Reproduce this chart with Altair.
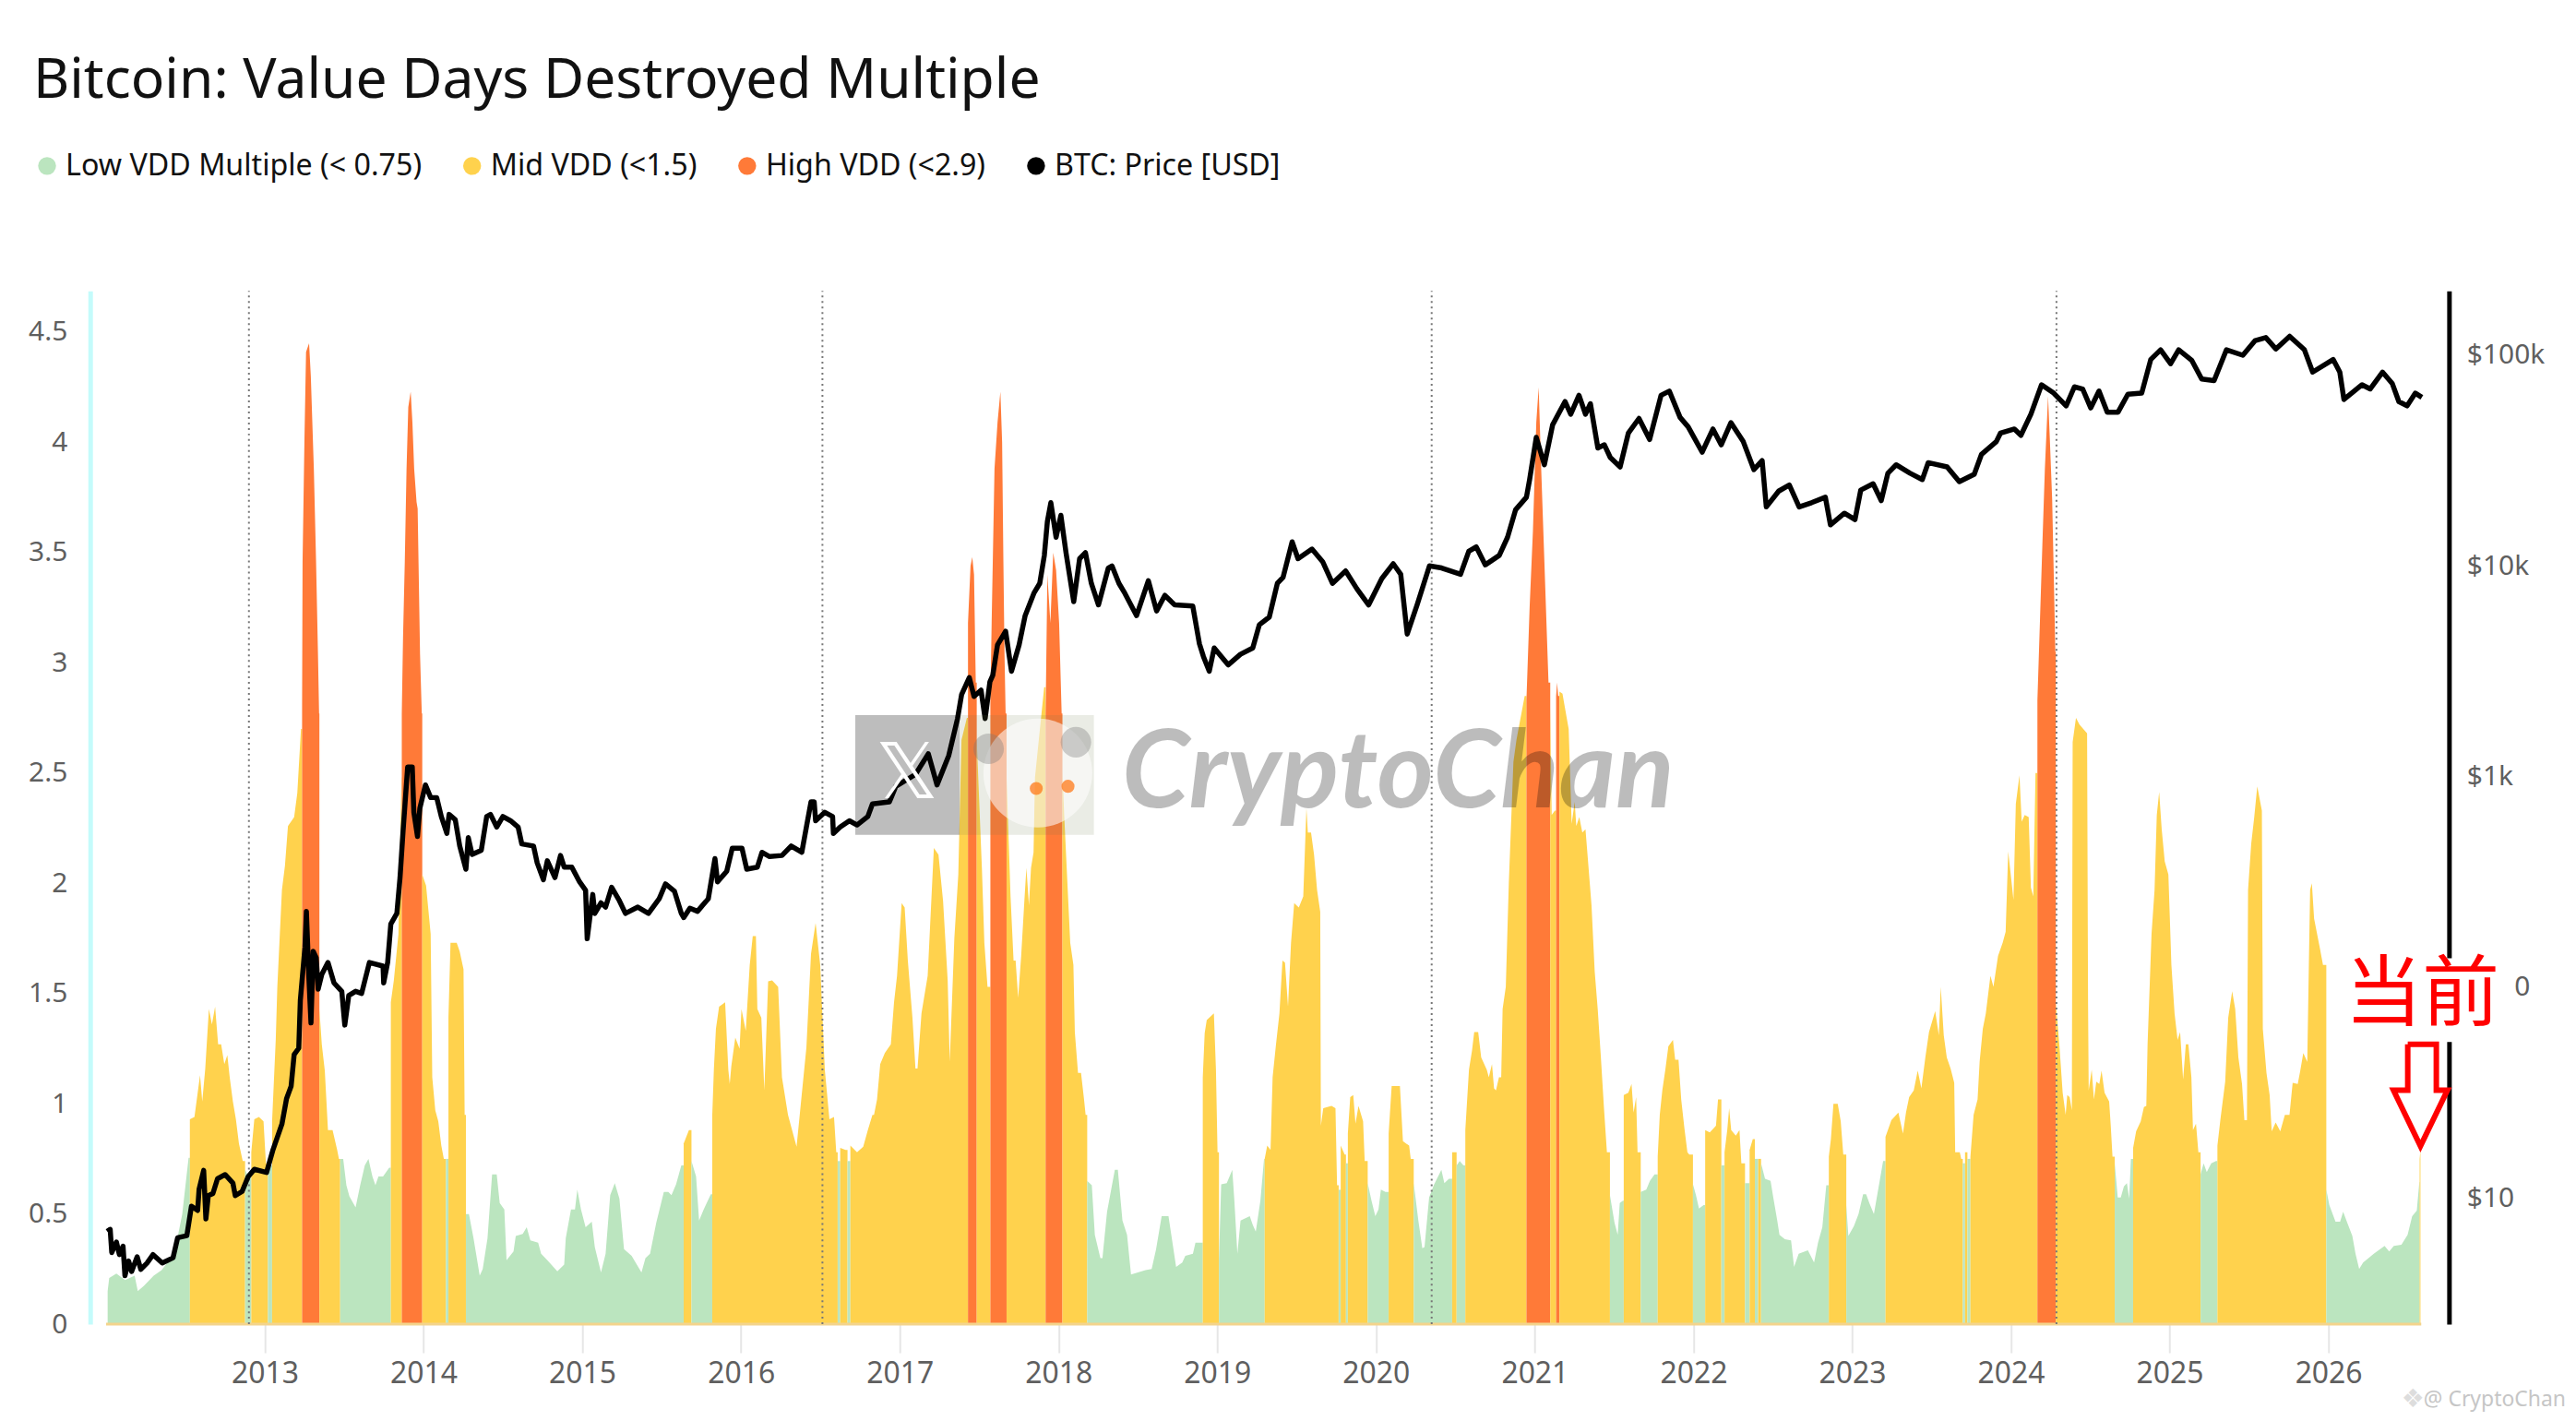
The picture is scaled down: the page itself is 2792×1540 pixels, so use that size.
import altair as alt
import numpy as np
import pandas as pd

TITLE = "Bitcoin: Value Days Destroyed Multiple"
REGIMES = ["Low VDD Multiple (< 0.75)", "Mid VDD (<1.5)", "High VDD (<2.9)", "BTC: Price [USD]"]
REGIME_COLORS = ["#bbe5bf", "#ffd24d", "#ff7a38", "#000000"]
FONT = "Noto Sans"

# (decimal year, VDD multiple)
vdd_2012 = [(2012.01,.15),(2012.02,.21),(2012.065,.23),(2012.12,.20),(2012.18,.22),(2012.20,.15),(2012.24,.175),(2012.30,.22),(2012.35,.245),(2012.43,.32),(2012.48,.50),(2012.52,.755),
(2012.528,.93),(2012.557,.94),(2012.592,1.13),(2012.606,1.01),(2012.625,1.16),(2012.648,1.43),(2012.667,1.36),(2012.687,1.44),(2012.706,1.27),(2012.725,1.27),(2012.745,1.18),(2012.764,1.22),(2012.779,1.12),(2012.799,1.01),(2012.818,.93),(2012.837,.82),(2012.861,.74),
(2012.876,.70),(2012.895,.67),(2012.915,.78),(2012.934,.93),(2012.963,.94),(2012.992,.92),(2013.007,.73)]
vdd_2013 = [(2013.02,.72),(2013.046,.92),(2013.069,1.29),(2013.079,1.53),(2013.108,1.97),(2013.127,2.08),(2013.146,2.26),(2013.185,2.30),(2013.205,2.41),(2013.228,2.7),
(2013.235,2.8),(2013.238,3.46),(2013.25,4.02),(2013.26,4.41),(2013.279,4.45),(2013.29,4.3),(2013.309,3.88),(2013.323,3.46),(2013.335,3.04),(2013.342,2.77),
(2013.344,1.43),(2013.359,1.27),(2013.378,1.15),(2013.398,.88),(2013.427,.88),(2013.456,.79),(2013.467,.75),
(2013.475,.75),(2013.494,.75),(2013.514,.63),(2013.533,.58),(2013.572,.53),(2013.601,.63),(2013.63,.72),(2013.653,.75),(2013.678,.67),(2013.697,.63),(2013.716,.67),(2013.745,.67),(2013.784,.71),
(2013.794,1.46),(2013.813,1.56),(2013.842,1.77),(2013.861,2.48),
(2013.863,2.77),(2013.871,3.12),(2013.882,3.46),(2013.893,3.88),(2013.904,4.16),(2013.919,4.23),(2013.93,4.09),(2013.941,3.88),(2013.956,3.73),(2013.963,3.70),(2013.978,3.04),(2013.989,2.77),
(2013.992,2.04)]
vdd_2014 = [(2014.016,1.99),(2014.045,1.77),(2014.055,1.12),(2014.074,.97),(2014.093,.92),(2014.112,.81),(2014.128,.75),(2014.141,.75),
(2014.157,1.39),(2014.17,1.73),(2014.209,1.73),(2014.228,1.69),(2014.252,1.61),(2014.259,.95),
(2014.267,.50),(2014.286,.50),(2014.315,.39),(2014.354,.22),(2014.373,.25),(2014.403,.39),(2014.432,.68),(2014.461,.68),(2014.48,.55),(2014.509,.52),(2014.523,.29),(2014.567,.33),(2014.581,.40),(2014.625,.41),(2014.65,.44),(2014.673,.38),(2014.722,.37),(2014.741,.32),(2014.78,.29),(2014.843,.24),(2014.886,.27),(2014.896,.39),(2014.929,.52),(2014.954,.52),(2014.969,.61),(2014.992,.52)]
vdd_2015 = [(2015.021,.44),(2015.06,.465),(2015.079,.35),(2015.118,.235),(2015.147,.32),(2015.176,.585),(2015.205,.64),(2015.234,.57),(2015.263,.34),(2015.311,.31),(2015.373,.235),(2015.398,.30),(2015.427,.32),(2015.466,.46),(2015.514,.60),(2015.542,.60),(2015.562,.585),(2015.591,.635),(2015.624,.72),
(2015.639,.82),(2015.672,.88),(2015.688,.74),(2015.717,.67),(2015.736,.47),(2015.765,.52),(2015.81,.59),
(2015.819,.95),(2015.829,1.155),(2015.842,1.34),(2015.862,1.44),(2015.9,1.46),(2015.92,1.155),(2015.929,1.09),(2015.939,1.17),(2015.964,1.30),(2015.991,1.25)]
vdd_2016 = [(2016.003,1.43),(2016.03,1.33),(2016.055,1.63),(2016.074,1.76),(2016.094,1.76),(2016.103,1.43),(2016.128,1.39),(2016.147,1.06),(2016.171,1.555),(2016.196,1.56),(2016.234,1.53),(2016.258,1.12),(2016.296,.95),(2016.35,.805),(2016.37,.95),(2016.412,1.255),(2016.441,1.68),(2016.47,1.82),(2016.499,1.63),(2016.528,1.155),(2016.557,.93),(2016.586,.94),(2016.6,.78),
(2016.609,.74),(2016.625,.80),(2016.659,.79),(2016.671,.74),(2016.689,.81),(2016.731,.78),(2016.77,.805),(2016.799,.88),(2016.828,.95),(2016.838,.95),(2016.857,1.02),(2016.877,1.18),(2016.906,1.23),(2016.944,1.27),(2016.964,1.46),(2016.983,1.58)]
vdd_2017 = [(2017.012,1.91),(2017.031,1.89),(2017.051,1.65),(2017.08,1.39),(2017.099,1.16),(2017.112,1.16),(2017.137,1.41),(2017.176,1.58),(2017.215,2.16),(2017.244,2.13),(2017.273,1.92),(2017.302,1.56),(2017.315,1.19),(2017.344,1.75),(2017.369,2.04),(2017.389,2.65),(2017.423,2.75),
(2017.43,3.18),(2017.446,3.44),(2017.457,3.48),(2017.468,3.40),(2017.479,2.91),
(2017.485,2.65),(2017.518,2.06),(2017.533,1.73),(2017.553,1.53),
(2017.571,2.84),(2017.579,3.18),(2017.597,3.88),(2017.616,4.09),(2017.634,4.23),(2017.645,4.0),(2017.653,3.46),(2017.66,3.04),(2017.667,2.77),
(2017.673,2.48),(2017.698,1.94),(2017.717,1.65),(2017.73,1.65),(2017.746,1.48),(2017.765,1.67),(2017.785,1.92),(2017.798,2.07),(2017.814,1.90),(2017.827,2.07),(2017.843,2.14),(2017.852,2.48),(2017.91,2.89),
(2017.919,2.77),(2017.93,3.40),(2017.949,3.18),(2017.967,3.50),(2017.985,3.42)]
vdd_2018 = [(2018.004,3.18),(2018.02,2.77),(2018.025,2.5),(2018.036,2.31),(2018.055,2.02),(2018.074,1.73),(2018.094,1.63),(2018.103,1.325),(2018.123,1.14),(2018.142,1.14),(2018.161,1.02),(2018.171,.95),
(2018.181,.65),(2018.21,.63),(2018.229,.405),(2018.264,.30),(2018.277,.30),(2018.306,.51),(2018.355,.70),(2018.374,.70),(2018.403,.47),(2018.432,.405),(2018.457,.225),(2018.5,.235),(2018.548,.245),(2018.587,.25),(2018.615,.34),(2018.65,.49),(2018.693,.49),(2018.741,.26),(2018.78,.28),(2018.799,.31),(2018.847,.32),(2018.863,.37),(2018.898,.37),
(2018.909,1.12),(2018.921,1.32),(2018.934,1.38),(2018.979,1.41),(2018.992,1.155)]
vdd_2019 = [(2019.002,.78),(2019.011,.29),(2019.025,.635),(2019.06,.64),(2019.095,.70),(2019.108,.56),(2019.127,.32),(2019.147,.47),(2019.205,.49),(2019.224,.45),(2019.243,.42),(2019.272,.56),(2019.295,.75),
(2019.299,.75),(2019.315,.81),(2019.336,.79),(2019.349,1.12),(2019.369,1.26),(2019.392,1.41),(2019.411,1.65),(2019.427,1.64),(2019.446,1.44),(2019.465,1.73),(2019.485,1.91),(2019.514,1.89),(2019.542,1.94),(2019.562,2.34),(2019.571,2.23),(2019.591,2.23),(2019.61,2.13),(2019.629,1.97),(2019.649,1.87),(2019.653,.90),(2019.668,.98),(2019.72,.99),(2019.745,.98),(2019.755,.63),
(2019.765,.61),(2019.778,.81),(2019.803,.77),(2019.811,.73),(2019.823,.865),(2019.838,1.03),(2019.857,1.04),(2019.871,.91),(2019.89,.99),(2019.919,.92),(2019.929,.74),(2019.948,.64),(2019.972,.56),(2019.996,.49)]
vdd_2020 = [(2020.016,.52),(2020.031,.61),(2020.06,.60),(2020.08,.865),(2020.099,1.08),(2020.151,1.08),(2020.17,.83),(2020.209,.81),(2020.219,.75),
(2020.238,.64),(2020.267,.47),(2020.292,.345),(2020.306,.35),(2020.335,.575),(2020.364,.63),(2020.412,.70),(2020.431,.64),(2020.46,.66),(2020.48,.78),(2020.493,.78),(2020.508,.72),(2020.528,.74),(2020.551,.72),
(2020.563,.88),(2020.586,1.155),(2020.605,1.24),(2020.619,1.325),(2020.644,1.325),(2020.663,1.21),(2020.698,1.155),(2020.711,1.12),(2020.731,1.18),(2020.744,1.07),(2020.756,1.06),(2020.775,1.12),(2020.789,1.12),(2020.798,1.43),(2020.818,1.53),(2020.837,2.0),(2020.866,2.55),(2020.885,2.65),(2020.937,2.85),
(2020.948,2.83),(2020.968,3.25),(2020.989,3.6)]
vdd_2021 = [(2021.01,4.09),(2021.025,4.25),(2021.041,3.88),(2021.061,3.46),(2021.077,3.12),(2021.087,2.91),
(2021.098,2.8),(2021.107,2.31),(2021.127,2.33),(2021.135,2.85),(2021.141,2.91),(2021.148,2.85),
(2021.156,2.87),(2021.175,2.86),(2021.214,2.70),(2021.233,2.27),(2021.252,2.37),(2021.262,2.26),(2021.281,2.30),(2021.3,2.23),(2021.32,2.245),(2021.335,2.11),(2021.358,1.90),(2021.378,1.60),(2021.397,1.43),(2021.417,1.21),(2021.436,.985),(2021.455,.78),
(2021.474,.585),(2021.503,.46),(2021.523,.405),(2021.536,.55),(2021.556,.56),(2021.561,1.04),(2021.59,1.05),(2021.61,1.09),(2021.623,.96),(2021.639,1.03),(2021.648,.78),
(2021.668,.60),(2021.703,.61),(2021.726,.65),(2021.755,.68),(2021.775,.76),(2021.788,.95),(2021.804,1.06),(2021.823,1.155),(2021.842,1.26),(2021.871,1.29),(2021.885,1.20),(2021.906,1.20),(2021.923,1.02),(2021.943,.89),(2021.962,.78),(2021.974,.77),(2021.997,.635)]
vdd_2022 = [(2022.016,.585),(2022.035,.525),(2022.064,.54),(2022.074,.88),(2022.103,.87),(2022.142,.90),(2022.155,1.02),(2022.163,1.02),(2022.176,.72),(2022.196,.78),(2022.213,.88),(2022.225,.98),(2022.238,.88),(2022.267,.855),(2022.29,.88),(2022.302,.73),(2022.325,.64),(2022.354,.79),(2022.374,.84),(2022.387,.75),(2022.408,.75),
(2022.426,.73),(2022.451,.66),(2022.486,.65),(2022.503,.575),(2022.528,.47),(2022.542,.405),(2022.576,.385),(2022.615,.38),(2022.634,.26),(2022.663,.32),(2022.721,.335),(2022.76,.28),(2022.785,.37),(2022.812,.44),(2022.837,.63),
(2022.853,.76),(2022.866,.84),(2022.882,1.0),(2022.909,1.0),(2022.928,.92),(2022.944,.77),(2022.963,.54),(2022.976,.40)]
vdd_2023 = [(2023.011,.445),(2023.04,.50),(2023.069,.59),(2023.088,.59),(2023.108,.55),(2023.137,.50),(2023.166,.62),(2023.195,.74),
(2023.21,.85),(2023.247,.925),(2023.291,.96),(2023.32,.865),(2023.339,.96),(2023.359,1.03),(2023.388,1.06),(2023.413,1.15),(2023.436,1.07),(2023.461,1.21),(2023.484,1.325),(2023.523,1.42),(2023.546,1.31),(2023.558,1.53),(2023.577,1.31),(2023.596,1.21),(2023.62,1.16),(2023.643,1.095),(2023.649,.78),(2023.678,.78),(2023.687,.75),
(2023.697,.73),(2023.711,.78),(2023.726,.75),(2023.745,.76),(2023.765,.95),(2023.79,1.02),(2023.803,1.19),(2023.823,1.34),(2023.842,1.41),(2023.871,1.58),(2023.89,1.53),(2023.919,1.67),(2023.948,1.73),(2023.967,1.78),(2023.983,2.145),(2023.996,2.06)]
vdd_2024 = [(2024.016,1.925),(2024.031,2.36),(2024.054,2.49),(2024.068,2.28),(2024.087,2.31),(2024.112,2.30),(2024.126,1.98),(2024.141,1.94),(2024.155,2.5),
(2024.167,2.83),(2024.183,3.19),(2024.198,3.53),(2024.214,3.88),(2024.234,4.21),(2024.245,4.02),(2024.26,3.74),(2024.27,3.4),(2024.28,3.05),
(2024.283,1.46),(2024.306,1.26),(2024.326,1.05),(2024.345,.95),(2024.355,1.04),(2024.37,1.03),(2024.384,.97),(2024.389,2.64),(2024.41,2.75),(2024.432,2.72),(2024.48,2.68),(2024.486,1.46),(2024.49,1.06),(2024.509,1.155),(2024.523,1.02),(2024.538,1.10),(2024.557,1.09),(2024.571,1.15),(2024.59,1.05),(2024.619,1.01),(2024.629,.90),(2024.64,.76),
(2024.654,.73),(2024.673,.575),(2024.692,.575),(2024.712,.625),(2024.731,.64),(2024.745,.57),(2024.756,.75),
(2024.77,.80),(2024.789,.875),(2024.818,.92),(2024.838,.985),(2024.853,.99),(2024.861,1.27),(2024.886,1.77),(2024.905,1.97),(2024.919,2.31),(2024.934,2.415),(2024.95,2.245),(2024.969,2.10),(2024.992,2.04)]
vdd_2025 = [(2025.011,1.63),(2025.031,1.41),(2025.05,1.29),(2025.066,1.325),(2025.085,1.11),(2025.102,1.27),(2025.118,1.27),(2025.137,1.12),(2025.147,.88),(2025.166,.91),(2025.181,.78),
(2025.195,.68),(2025.214,.73),(2025.234,.69),(2025.262,.73),(2025.292,.74),
(2025.301,.81),(2025.32,.93),(2025.35,1.10),(2025.369,1.39),(2025.394,1.51),(2025.413,1.43),(2025.433,1.21),(2025.456,1.09),(2025.471,.925),(2025.487,.925),(2025.494,1.97),(2025.514,2.18),(2025.533,2.30),(2025.552,2.44),(2025.581,2.33),(2025.587,1.34),(2025.61,1.14),(2025.63,1.04),(2025.643,.875),(2025.668,.915),(2025.697,.875),(2025.726,.95),(2025.755,.95),(2025.775,1.095),(2025.807,1.09),(2025.823,1.15),(2025.842,1.23),(2025.867,1.19),(2025.877,1.63),(2025.885,1.97),(2025.896,2.0),(2025.91,1.84),(2025.929,1.77),(2025.948,1.70),(2025.966,1.63),
(2025.987,.61)]
vdd_2026 = [(2026.006,.54),(2026.045,.465),(2026.074,.465),(2026.093,.51),(2026.122,.455),(2026.151,.40),(2026.171,.32),(2026.194,.25),(2026.219,.28),(2026.286,.32),(2026.354,.355),(2026.383,.33),(2026.412,.355),(2026.46,.36),(2026.499,.405),(2026.528,.49),(2026.557,.515),(2026.573,.645),(2026.575,.75),(2026.58,.79)]

# first year of each colour band, and its regime (0 low, 1 mid, 2 high)
band_start = [2012.0,2012.525,2012.865,2012.905,2013.012,2013.04,2013.233,2013.343,2013.47,2013.79,2013.862,2013.99,2014.135,2014.15,2014.262,2015.63,2015.68,2015.815,2016.605,2016.62,2016.665,2016.68,2017.427,2017.482,2017.565,2017.67,2017.915,2018.022,2018.175,2018.905,2019.005,2019.297,2019.76,2019.775,2019.807,2019.818,2019.93,2020.074,2020.222,2020.47,2020.5,2020.557,2020.945,2021.09,2021.132,2021.15,2021.46,2021.558,2021.65,2021.769,2021.98,2022.07,2022.17,2022.19,2022.31,2022.35,2022.38,2022.4,2022.415,2022.85,2022.95,2023.198,2023.69,2023.705,2023.72,2023.74,2024.16,2024.281,2024.65,2024.76,2025.185,2025.298,2025.97,2026.574]
band_regime = [0,1,0,1,0,1,2,1,0,1,2,1,0,1,0,1,0,1,0,1,0,1,2,1,2,1,2,1,0,1,0,1,0,1,0,1,0,1,0,1,0,1,2,1,2,1,0,1,0,1,0,1,0,1,0,1,0,1,0,1,0,1,0,1,0,1,2,1,0,1,0,1,0,1]

# (decimal year, log10 of BTC price in USD)
btc_2012_13 = [(2012.007,.84),(2012.026,.85),(2012.036,.74),(2012.065,.79),(2012.084,.73),(2012.107,.77),(2012.119,.63),(2012.142,.70),(2012.161,.65),(2012.196,.72),(2012.219,.66),(2012.258,.69),(2012.296,.73),(2012.354,.69),(2012.422,.715),(2012.451,.81),(2012.509,.82),(2012.538,.96),(2012.577,.94),(2012.586,1.04),(2012.615,1.13),(2012.629,.90),(2012.644,1.01),(2012.673,1.02),(2012.702,1.09),(2012.75,1.11),(2012.799,1.07),(2012.814,1.01),(2012.857,1.03),(2012.895,1.10),(2012.934,1.135),(2013.011,1.12),(2013.05,1.224),(2013.108,1.35),(2013.137,1.47),(2013.166,1.53),(2013.185,1.68),(2013.214,1.71),(2013.224,1.938),(2013.253,2.19),(2013.262,2.36),(2013.278,2.04),(2013.291,1.83),(2013.305,2.17),(2013.324,2.14),(2013.336,1.99),(2013.359,2.06),(2013.398,2.117),(2013.436,2.02),(2013.485,1.98),(2013.504,1.82),(2013.529,1.96),(2013.572,1.98),(2013.61,1.97),(2013.659,2.117),(2013.745,2.10),(2013.749,2.02),(2013.774,2.117),(2013.794,2.30),(2013.832,2.35),(2013.852,2.52),(2013.871,2.74),(2013.9,3.045),(2013.929,3.045),(2013.939,2.83),(2013.962,2.715),(2013.977,2.85)]
btc_2014_16 = [(2014.012,2.96),(2014.045,2.90),(2014.083,2.90),(2014.112,2.81),(2014.147,2.73),(2014.161,2.82),(2014.2,2.795),(2014.228,2.67),(2014.267,2.56),(2014.282,2.71),(2014.306,2.63),(2014.364,2.65),(2014.398,2.81),(2014.422,2.82),(2014.461,2.76),(2014.5,2.81),(2014.548,2.79),(2014.596,2.76),(2014.619,2.68),(2014.693,2.67),(2014.716,2.59),(2014.755,2.51),(2014.78,2.60),(2014.828,2.52),(2014.863,2.625),(2014.886,2.57),(2014.934,2.57),(2014.983,2.50),(2015.021,2.46),(2015.031,2.23),(2015.066,2.44),(2015.079,2.35),(2015.118,2.40),(2015.147,2.38),(2015.185,2.474),(2015.234,2.41),(2015.272,2.35),(2015.35,2.38),(2015.417,2.35),(2015.485,2.42),(2015.524,2.49),(2015.581,2.455),(2015.624,2.35),(2015.639,2.33),(2015.678,2.375),(2015.726,2.36),(2015.794,2.42),(2015.836,2.61),(2015.852,2.50),(2015.91,2.55),(2015.945,2.66),(2016.006,2.66),(2016.036,2.56),(2016.103,2.57),(2016.132,2.64),(2016.18,2.62),(2016.258,2.625),(2016.316,2.67),(2016.383,2.64),(2016.412,2.76),(2016.441,2.88),(2016.461,2.88),(2016.47,2.79),(2016.528,2.83),(2016.577,2.81),(2016.582,2.73),(2016.625,2.76),(2016.683,2.79),(2016.731,2.77),(2016.799,2.81),(2016.828,2.87),(2016.935,2.88)]
btc_2017_18 = [(2016.976,2.954),(2017.099,3.01),(2017.18,3.108),(2017.235,2.96),(2017.309,3.10),(2017.364,3.275),(2017.39,3.39),(2017.438,3.47),(2017.468,3.38),(2017.512,3.41),(2017.538,3.275),(2017.568,3.45),(2017.586,3.48),(2017.616,3.625),(2017.667,3.69),(2017.704,3.50),(2017.752,3.625),(2017.79,3.764),(2017.845,3.87),(2017.882,3.917),(2017.911,4.05),(2017.93,4.21),(2017.952,4.30),(2017.985,4.136),(2018.015,4.24),(2018.048,4.06),(2018.096,3.83),(2018.133,4.034),(2018.17,4.063),(2018.207,3.917),(2018.252,3.815),(2018.314,3.99),(2018.337,4.0),(2018.381,3.917),(2018.418,3.87),(2018.492,3.764),(2018.566,3.93),(2018.618,3.786),(2018.67,3.86),(2018.732,3.815),(2018.846,3.81),(2018.888,3.63),(2018.913,3.57),(2018.95,3.50),(2018.981,3.61)]
btc_2019_21 = [(2019.069,3.53),(2019.146,3.58),(2019.224,3.61),(2019.265,3.72),(2019.328,3.757),(2019.379,3.917),(2019.415,3.946),(2019.472,4.114),(2019.509,4.034),(2019.597,4.08),(2019.664,4.02),(2019.726,3.917),(2019.809,3.976),(2019.881,3.89),(2019.954,3.815),(2020.037,3.94),(2020.109,4.01),(2020.156,3.96),(2020.197,3.676),(2020.259,3.815),(2020.337,4.0),(2020.414,3.99),(2020.533,3.96),(2020.585,4.07),(2020.632,4.09),(2020.689,4.005),(2020.777,4.05),(2020.829,4.136),(2020.88,4.267),(2020.948,4.326),(2020.968,4.41),(2021.01,4.61),(2021.061,4.48),(2021.113,4.67),(2021.191,4.78),(2021.227,4.72),(2021.279,4.81),(2021.32,4.72),(2021.351,4.77),(2021.398,4.56),(2021.439,4.575),(2021.476,4.515),(2021.538,4.47),(2021.59,4.63),(2021.657,4.70),(2021.724,4.60),(2021.796,4.81),(2021.848,4.83),(2021.916,4.705),(2021.967,4.66)]
btc_2022_24 = [(2022.055,4.54),(2022.123,4.65),(2022.175,4.575),(2022.236,4.68),(2022.314,4.59),(2022.381,4.457),(2022.433,4.50),(2022.459,4.28),(2022.537,4.355),(2022.604,4.384),(2022.666,4.28),(2022.744,4.30),(2022.831,4.326),(2022.863,4.195),(2022.951,4.25),(2023.018,4.22),(2023.054,4.36),(2023.132,4.39),(2023.183,4.31),(2023.225,4.44),(2023.277,4.48),(2023.365,4.44),(2023.442,4.41),(2023.479,4.49),(2023.598,4.47),(2023.675,4.40),(2023.769,4.435),(2023.815,4.53),(2023.908,4.59),(2023.934,4.63),(2024.022,4.65),(2024.063,4.62),(2024.126,4.72),(2024.193,4.86),(2024.27,4.82),(2024.348,4.76),(2024.4,4.85),(2024.452,4.84),(2024.503,4.75),(2024.555,4.83),(2024.607,4.73),(2024.675,4.73),(2024.737,4.815),(2024.824,4.82),(2024.881,4.98),(2024.943,5.026)]
btc_2025_26 = [(2025.006,4.96),(2025.057,5.026),(2025.14,4.975),(2025.202,4.887),(2025.28,4.88),(2025.358,5.026),(2025.461,5.00),(2025.539,5.07),(2025.606,5.084),(2025.669,5.03),(2025.756,5.09),(2025.849,5.026),(2025.901,4.92),(2026.03,4.98),(2026.072,4.92),(2026.098,4.79),(2026.212,4.86),(2026.263,4.84),(2026.341,4.92),(2026.403,4.865),(2026.444,4.78),(2026.496,4.76),(2026.548,4.82),(2026.589,4.80)]

halving_years = [2012.90, 2016.513, 2020.351, 2024.287]
x_tick_years = list(range(2013, 2027))
y_ticks = [0, .5, 1, 1.5, 2, 2.5, 3, 3.5, 4, 4.5]
price_ticks = [10, 100, 1000, 10000, 100000]
arrow_points = [(2026.50,1.27),(2026.68,1.27),(2026.68,1.061),(2026.75,1.061),(2026.58,.808),(2026.41,1.061),(2026.50,1.061),(2026.50,1.27)]

def dt(y):
    return pd.Timestamp("2000-01-01") + pd.to_timedelta((np.asarray(y, dtype=float) - 2000) * 365.2425, unit="D")

def ms(y):
    return int((pd.Timestamp("2000-01-01") + pd.Timedelta(days=(y - 2000) * 365.2425)).timestamp() * 1000)

vdd = sorted(vdd_2012 + vdd_2013 + vdd_2014 + vdd_2015 + vdd_2016 + vdd_2017 + vdd_2018 + vdd_2019 + vdd_2020 + vdd_2021 + vdd_2022 + vdd_2023 + vdd_2024 + vdd_2025 + vdd_2026)
vx = np.array([p[0] for p in vdd])
vy = np.array([p[1] for p in vdd])
band = np.searchsorted(band_start, vx, side="right") - 1
rows = []
for b in range(len(band_start)):
    idx = np.where(band == b)[0]
    if len(idx) == 0:
        continue
    for i in idx:
        rows.append((vx[i], vy[i], b, REGIMES[band_regime[b]]))
    if idx[-1] + 1 < len(vx):
        rows.append((vx[idx[-1] + 1], vy[idx[-1]], b, REGIMES[band_regime[b]]))
area_df = pd.DataFrame(rows, columns=["year", "value", "band", "regime"])
area_df["date"] = dt(area_df["year"])

btc = btc_2012_13 + btc_2014_16 + btc_2017_18 + btc_2019_21 + btc_2022_24 + btc_2025_26
btc_df = pd.DataFrame(btc, columns=["year", "logp"])
btc_df["price"] = 10 ** btc_df["logp"]
btc_df["date"] = dt(btc_df["year"])

x_dom = [ms(2011.90), ms(2026.76)]
Y_DOM = [0, 4.687]
P_DOM = [2.51, 202000]

x_axis = alt.Axis(values=[ms(y) for y in x_tick_years], labelExpr="utcFormat(time(datum.value) + 259200000, '%Y')", grid=False, domain=False,
                  tickColor="#e6e6e6", tickWidth=2, tickSize=31, labelPadding=8,
                  labelFontSize=32, labelColor="#5f5f5f", labelFont=FONT, labelFlush=False, labelOverlap=False)
y_axis = alt.Axis(values=y_ticks, format="~g", grid=False, ticks=False, orient="left",
                  domainColor="#c4fbfb", domainWidth=5, labelPadding=25,
                  labelFontSize=30, labelColor="#5f5f5f", labelFont=FONT, labelOverlap=False)
p_axis = alt.Axis(values=price_ticks, grid=False, ticks=False, orient="right",
                  domainColor="#000000", domainWidth=5, labelPadding=19,
                  labelExpr="datum.value >= 1000 ? '$' + datum.value / 1000 + 'k' : '$' + datum.value",
                  labelFontSize=30, labelColor="#5f5f5f", labelFont=FONT, labelOverlap=False)

def X(field="date"):
    return alt.X(f"{field}:T", title=None, scale=alt.Scale(type="utc", domain=x_dom), axis=x_axis)

def Y(field="value", axis=None, **kw):
    return alt.Y(f"{field}:Q", title=None, scale=alt.Scale(domain=Y_DOM), axis=axis, **kw)

legend = alt.Legend(title=None, orient="none", legendX=-63, legendY=-152, direction="horizontal", columns=4,
                    gridAlign="none", symbolType="circle", symbolSize=380, symbolStrokeWidth=0, symbolOpacity=1,
                    labelFontSize=32.3, labelFont=FONT, labelColor="#111111", columnPadding=38, labelOffset=4,
                    labelLimit=900, symbolOffset=0)

areas = alt.Chart(area_df).mark_area(opacity=1, interpolate="linear").encode(
    x=X(),
    y=Y(axis=y_axis, stack=None),
    color=alt.Color("regime:N", scale=alt.Scale(domain=REGIMES, range=REGIME_COLORS), legend=legend),
    detail="band:N",
)
baseline_df = pd.DataFrame({"date": dt([2012.0]), "date2": dt([2026.585]), "value": [0.0]})
baseline = alt.Chart(baseline_df).mark_rule(color="#f3d48c", strokeWidth=3).encode(
    x=X(), x2="date2:T", y=Y(axis=y_axis))
halving_df = pd.DataFrame({"date": dt(halving_years), "top": [Y_DOM[1]] * 4, "value": [0.0] * 4})
halvings = alt.Chart(halving_df).mark_rule(color="#777777", strokeWidth=2, strokeDash=[2, 4]).encode(
    x=X(), y=Y(axis=y_axis), y2="top:Q")
lower = alt.layer(areas, baseline, halvings)

price = alt.Chart(btc_df).mark_line(color="#000000", strokeWidth=5.5, strokeJoin="round").encode(
    x=X(),
    y=alt.Y("price:Q", title=None, axis=p_axis, scale=alt.Scale(type="log", domain=P_DOM)),
)

def box(y0, y1, v0, v1):
    return pd.DataFrame({"date": dt([y0]), "date2": dt([y1]), "value": [v0], "value2": [v1]})

def rect(df, **kw):
    return alt.Chart(df).mark_rect(**kw).encode(x=X(), x2="date2:T", y=Y(), y2="value2:Q")

def label(y, v, s, **kw):
    df = pd.DataFrame({"date": dt([y]), "value": [v], "t": [s]})
    return alt.Chart(df).mark_text(**kw).encode(x=X(), y=Y(), text="t:N")

def dots(years, values, **kw):
    df = pd.DataFrame({"date": dt(years), "value": values})
    return alt.Chart(df).mark_point(filled=True, **kw).encode(x=X(), y=Y())

wm_x = rect(box(2016.72, 2017.377, 2.22, 2.763), color="#000000", opacity=0.26)
wm_panda = rect(box(2017.377, 2018.223, 2.22, 2.763), color="#6b7a45", opacity=0.14)
wm_face = dots([2017.87], [2.50], size=14000, color="#ffffff", opacity=0.55)
wm_ears = dots([2017.56, 2018.11], [2.61, 2.64], size=1100, color="#777777", opacity=0.35)
wm_eyes = dots([2017.86, 2018.06], [2.43, 2.44], size=200, color="#ff7a1a", opacity=0.75)
wm_glyph = label(2017.046, 2.49, "𝕏", font="DejaVu Sans", fontSize=84, color="#ffffff", align="center", baseline="middle")
wm_name = label(2020.14, 2.49, "CryptoChan", font="Lato", fontSize=118, fontStyle="italic", fontWeight="bold",
                color="#000000", opacity=0.26, align="center", baseline="middle")
wm_small = label(2026.60, -0.345, "@ CryptoChan", font=FONT, fontSize=23, color="#c6c6c6", align="left", baseline="middle")
wm_mark = label(2026.46, -0.345, "❖", font="DejaVu Sans", fontSize=28, color="#dddddd", align="left", baseline="middle")

white = rect(box(2026.11, 2027.17, 1.28, 1.66), color="#ffffff", opacity=1)
note = label(2026.59, 1.486, "当前", font="Noto Sans CJK SC", fontSize=84, color="#ff0000", align="center", baseline="middle")
arrow_df = pd.DataFrame(arrow_points, columns=["year", "value"])
arrow_df["date"] = dt(arrow_df["year"])
arrow_df["order"] = range(len(arrow_df))
arrow = alt.Chart(arrow_df).mark_line(color="#ff0000", strokeWidth=6, strokeJoin="miter").encode(
    x=X(), y=Y(), order="order:Q")

upper = alt.layer(white, wm_x, wm_panda, wm_face, wm_ears, wm_eyes, wm_glyph, wm_name, wm_small, wm_mark, note, arrow)

chart = alt.layer(lower, price, upper).resolve_scale(y="independent").properties(
    width=2564, height=1123,
    padding={"left": 90, "top": 306, "right": 130, "bottom": 103},
    autosize=alt.AutoSizeParams(type="none"),
    background="#ffffff",
    title=alt.TitleParams(TITLE, anchor="start", frame="group", dx=-62, offset=45, fontSize=60.7,
                          fontWeight="normal", font=FONT, color="#111111"),
).configure_view(stroke=None)

chart.save("out.html", embed_options={"renderer": "svg", "actions": False})
